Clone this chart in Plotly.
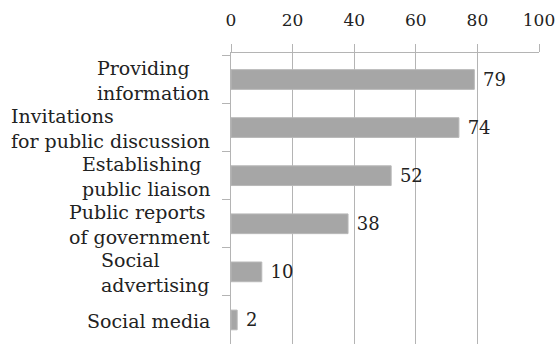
import plotly.graph_objects as go

# Survey results: share of respondents (%) per communication channel
categories = [
    "Providing\ninformation",
    "Invitations\nfor public discussion",
    "Establishing\npublic liaison",
    "Public reports\nof government",
    "Social\nadvertising",
    "Social media",
]
values = [79, 74, 52, 38, 10, 2]
x_ticks = [0, 20, 40, 60, 80, 100]

FONT = "DejaVu Serif"
TEXT = "#222222"
GRID = "#b4b4b4"
BAR = "#a6a6a6"

keys = [c.replace("\n", " ") for c in categories]

fig = go.Figure(
    go.Bar(
        x=values,
        y=keys,
        orientation="h",
        width=0.41,
        marker=dict(color=BAR, line=dict(color="#b8b8b8", width=1)),
        texttemplate=" %{x}",
        textposition="outside",
        constraintext="none",
        textfont=dict(family=FONT, size=18, color=TEXT),
        cliponaxis=False,
    )
)

# Category labels: left-aligned line blocks, right-anchored next to the axis
for key, label in zip(keys, categories):
    fig.add_annotation(
        xref="paper", x=0, xanchor="right", xshift=-19,
        yref="y", y=key, yanchor="middle", yshift=-1,
        text=label.replace("\n", "<br>"),
        align="left", showarrow=False,
        font=dict(family=FONT, size=19, color=TEXT),
    )

fig.update_layout(
    width=557, height=344,
    margin=dict(l=231, r=18, t=53, b=0),
    paper_bgcolor="white", plot_bgcolor="white",
    showlegend=False,
    font=dict(family=FONT, color=TEXT),
    xaxis=dict(
        side="top", range=[0, 100], tickvals=x_ticks,
        ticks="outside", ticklen=8, tickcolor=GRID, tickwidth=1,
        showline=True, linecolor=GRID, linewidth=1,
        showgrid=True, gridcolor=GRID, gridwidth=1,
        zeroline=False, ticklabelstandoff=11, ticklabeloverflow="allow",
        tickfont=dict(family=FONT, size=17, color=TEXT),
    ),
    yaxis=dict(
        type="category", categoryorder="array", categoryarray=keys,
        autorange="reversed",
        showticklabels=False, ticks="outside", tickson="boundaries",
        ticklen=8, tickcolor=GRID, tickwidth=1,
        showline=True, linecolor=GRID, linewidth=1,
        showgrid=False, zeroline=False,
    ),
)

fig.write_html("out.html")
